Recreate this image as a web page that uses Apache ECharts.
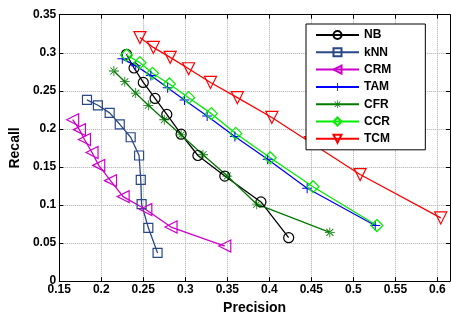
<!DOCTYPE html>
<html>
<head>
<meta charset="utf-8">
<script src="https://cdn.jsdelivr.net/npm/echarts@6/dist/echarts.min.js"></script>
<style>
  html, body { margin: 0; padding: 0; background: #fff; }
  #container { width: 451px; height: 320px; }
</style>
</head>
<body>
<div id="container"></div>
<script>
// precision / recall pairs
const nbPrec = [0.230, 0.239, 0.250, 0.264, 0.278, 0.295, 0.315, 0.347, 0.390, 0.423]
const nbRec = [0.298, 0.280, 0.261, 0.240, 0.219, 0.193, 0.165, 0.138, 0.104, 0.057]

const knnPrec = [0.183, 0.196, 0.210, 0.222, 0.235, 0.245, 0.247, 0.248, 0.256, 0.267]
const knnRec = [0.238, 0.231, 0.221, 0.206, 0.189, 0.165, 0.133, 0.101, 0.070, 0.037]

const crmPrec = [0.166, 0.174, 0.180, 0.189, 0.197, 0.211, 0.226, 0.253, 0.283, 0.347]
const crmRec = [0.212, 0.199, 0.186, 0.169, 0.152, 0.132, 0.111, 0.094, 0.071, 0.046]

const tamPrec = [0.225, 0.241, 0.259, 0.279, 0.299, 0.326, 0.359, 0.398, 0.445, 0.526]
const tamRec = [0.292, 0.283, 0.270, 0.254, 0.238, 0.217, 0.190, 0.160, 0.122, 0.073]

const cfrPrec = [0.215, 0.228, 0.241, 0.256, 0.275, 0.295, 0.321, 0.350, 0.385, 0.472]
const cfrRec = [0.276, 0.262, 0.247, 0.231, 0.212, 0.192, 0.166, 0.138, 0.101, 0.064]

const ccrPrec = [0.230, 0.246, 0.261, 0.281, 0.304, 0.331, 0.360, 0.401, 0.452, 0.528]
const ccrRec = [0.297, 0.287, 0.273, 0.259, 0.241, 0.220, 0.194, 0.162, 0.124, 0.073]

const tcmPrec = [0.246, 0.262, 0.282, 0.304, 0.330, 0.362, 0.403, 0.449, 0.508, 0.604]
const tcmRec = [0.320, 0.307, 0.294, 0.279, 0.261, 0.241, 0.215, 0.182, 0.140, 0.083]

const pairs = (xs, ys) => xs.map((x, i) => [x, ys[i]])

const plusPath = 'path://M-1,-10H1V-1H10V1H1V10H-1V1H-10V-1H-1Z'
const starPath = 'path://M-0.8,-10H0.8V10H-0.8Z M-10,-0.8H10V0.8H-10Z M-7.6,-6.4L6.4,7.6L7.6,6.4L-6.4,-7.6Z M-7.6,6.4L-6.4,7.6L7.6,-6.4L6.4,-7.6Z'

// hollow marker: transparent fill, coloured border
function hollow(name, data, color, symbol, size, rotate) {
  return {
    name, type: 'line', data,
    symbol, symbolSize: size, symbolRotate: rotate || 0,
    showAllSymbol: true,
    itemStyle: { color: 'rgba(255,255,255,0)', borderColor: color, borderWidth: 1.2 },
    lineStyle: { color, width: 1.3 },
    emphasis: { disabled: true }
  }
}

function solid(name, data, color, symbol, size) {
  return {
    name, type: 'line', data,
    symbol, symbolSize: size,
    showAllSymbol: true,
    itemStyle: { color },
    lineStyle: { color, width: 1.3 },
    emphasis: { disabled: true }
  }
}

const myChart = echarts.init(document.getElementById('container'))

const labelFont = { color: '#000', fontWeight: 'bold', fontSize: 12, fontFamily: 'Liberation Sans, Arial, sans-serif' }
const gridLine = { show: true, lineStyle: { color: '#aaa', type: 'dotted', width: 1 } }

myChart.setOption({
  animation: false,
  grid: { left: 48.6, right: 1, top: 14.7, bottom: 28.3 },
  legend: {
    orient: 'vertical',
    left: 306, top: 24,
    padding: [5, 34, 5, 9],
    itemWidth: 43, itemHeight: 10, itemGap: 5.3, itemTextGap: 6,
    borderColor: '#000', borderWidth: 1, backgroundColor: '#fff',
    textStyle: { color: '#000', fontWeight: 'bold', fontSize: 12, fontFamily: 'Liberation Sans, Arial, sans-serif' },
    data: ['NB', 'kNN', 'CRM', 'TAM', 'CFR', 'CCR', 'TCM']
  },
  xAxis: [{
    type: 'value', min: 0.15, max: 0.615, interval: 0.05,
    name: 'Precision', nameLocation: 'middle', nameGap: 14,
    nameTextStyle: { color: '#000', fontWeight: 'bold', fontSize: 14, fontFamily: 'Liberation Sans, Arial, sans-serif' },
    axisLine: { show: true, onZero: false, lineStyle: { color: '#000', width: 1 } },
    axisTick: { show: true, inside: true, length: 4, lineStyle: { color: '#000' } },
    axisLabel: Object.assign({ margin: 3, showMaxLabel: false }, labelFont),
    splitLine: gridLine
  }, {
    type: 'value', position: 'top', min: 0.15, max: 0.615, interval: 0.05,
    axisLine: { show: true, onZero: false, lineStyle: { color: '#000', width: 1 } },
    axisTick: { show: true, inside: true, length: 4, lineStyle: { color: '#000' } },
    axisLabel: { show: false },
    splitLine: { show: false }
  }],
  yAxis: [{
    type: 'value', min: 0, max: 0.35, interval: 0.05,
    name: 'Recall', nameLocation: 'middle', nameGap: 29,
    nameTextStyle: { color: '#000', fontWeight: 'bold', fontSize: 14, fontFamily: 'Liberation Sans, Arial, sans-serif' },
    axisLine: { show: true, onZero: false, lineStyle: { color: '#000', width: 1 } },
    axisTick: { show: true, inside: true, length: 4, lineStyle: { color: '#000' } },
    axisLabel: Object.assign({ margin: 3 }, labelFont),
    splitLine: gridLine
  }, {
    type: 'value', position: 'right', min: 0, max: 0.35, interval: 0.05,
    axisLine: { show: true, onZero: false, lineStyle: { color: '#000', width: 1 } },
    axisTick: { show: true, inside: true, length: 4, lineStyle: { color: '#000' } },
    axisLabel: { show: false },
    splitLine: { show: false }
  }],
  series: [
    hollow('NB', pairs(nbPrec, nbRec), '#000000', 'circle', 10),
    hollow('kNN', pairs(knnPrec, knnRec), '#2a4888', 'rect', 9),
    hollow('CRM', pairs(crmPrec, crmRec), '#cc00cc', 'triangle', 12, 90),
    solid('TAM', pairs(tamPrec, tamRec), '#0000ff', plusPath, 10),
    solid('CFR', pairs(cfrPrec, cfrRec), '#007a00', starPath, 10),
    hollow('CCR', pairs(ccrPrec, ccrRec), '#00ee00', 'diamond', 12),
    hollow('TCM', pairs(tcmPrec, tcmRec), '#ff0000', 'triangle', 12, 180)
  ]
})
</script>
</body>
</html>
